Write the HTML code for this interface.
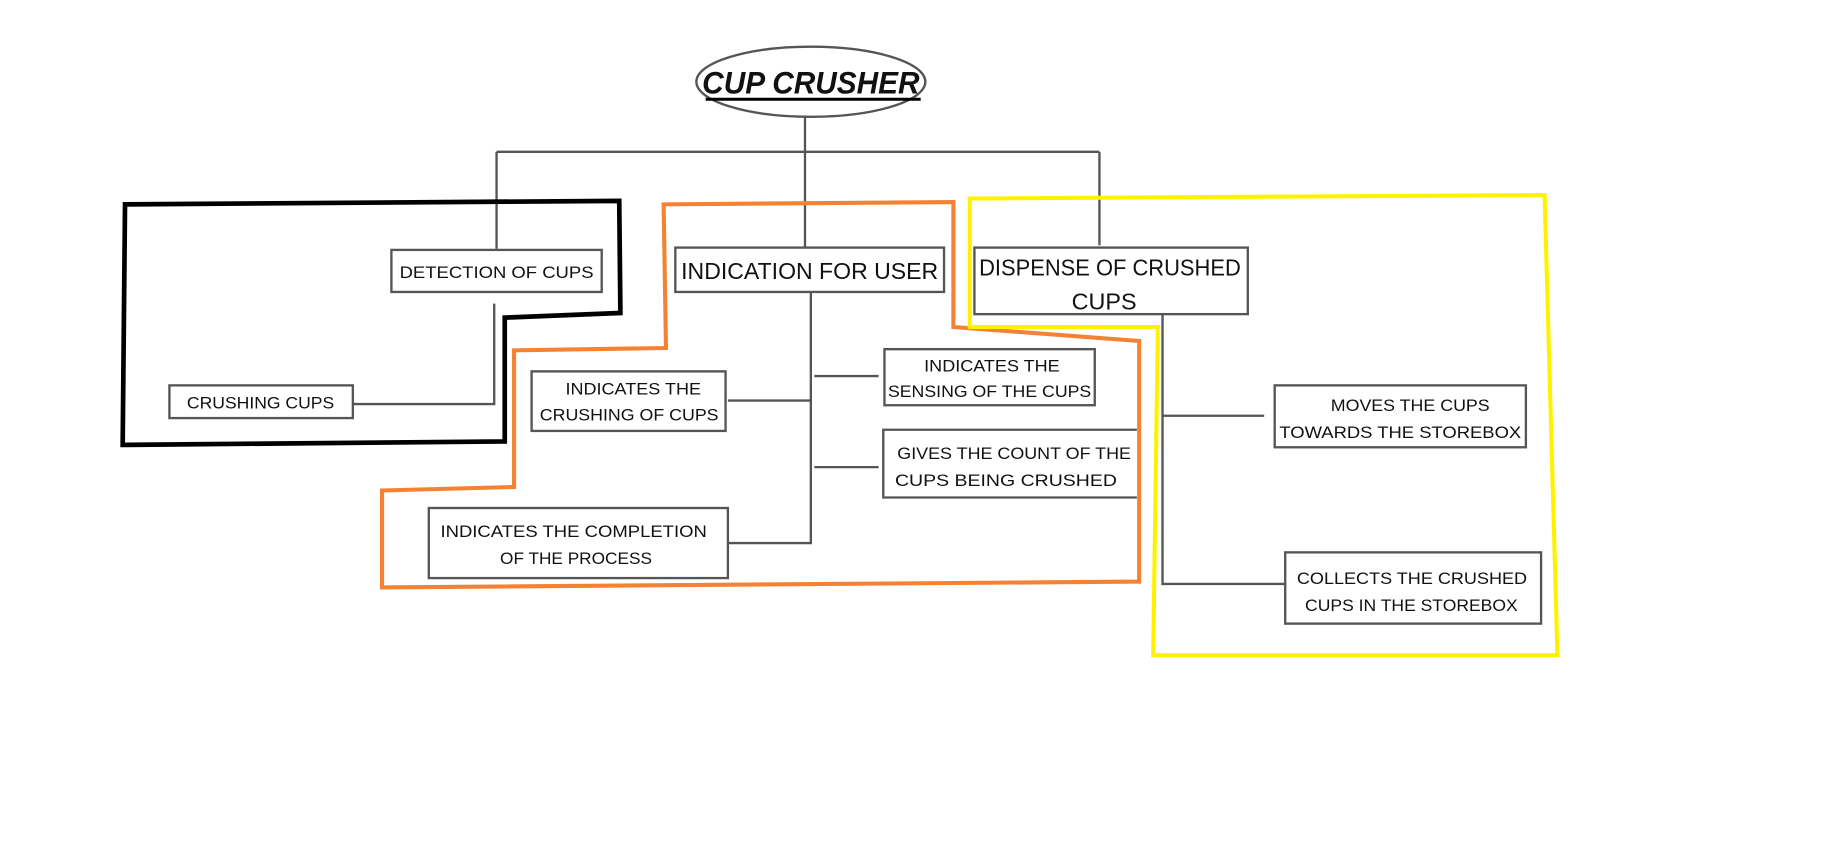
<!DOCTYPE html>
<html><head><meta charset="utf-8"><style>
html,body{margin:0;padding:0;background:#fff;}
svg{display:block}
text{font-family:"Liberation Sans",sans-serif;fill:#111;}
</style></head><body>
<svg width="1832" height="849" viewBox="0 0 1568 727" preserveAspectRatio="none">
<rect width="1568" height="727" fill="#fff"/>
<g fill="none" stroke="#555" stroke-width="2">
<ellipse cx="694" cy="70" rx="98" ry="30"/>
<path d="M689 100V130M425 130H941M425 130V213M689 130V212M941 130V210"/>
<path d="M423 260V346H302"/>
<path d="M694 250V465H623M623 343H694M697 322H752M697 400H752"/>
<path d="M995 269V500H1100M995 356H1082"/>
<rect x="335" y="214" width="180" height="36"/>
<rect x="145" y="330" width="157" height="28"/>
<rect x="578" y="212" width="230" height="38"/>
<rect x="455" y="318" width="166" height="51"/>
<rect x="757" y="299" width="180" height="48"/>
<path d="M973 368H756V426H973"/>
<rect x="367" y="435" width="256" height="60"/>
<rect x="834" y="212" width="234" height="57"/>
<rect x="1091" y="330" width="215" height="53"/>
<rect x="1100" y="473" width="219" height="61"/>
</g>
<path d="M107 175L530 172L531 268L432 272L432 378L105 381Z" fill="none" stroke="#000" stroke-width="4"/>
<path d="M568 175L816 173L816 280L975 292L975 498L327 503L327 420L440 417L440 300L570 298Z" fill="none" stroke="#f58232" stroke-width="3.5"/>
<path d="M830 170L1322 167L1333 561L987 561L991 280L830 280Z" fill="none" stroke="#fff200" stroke-width="3.5"/>
<text x="601" y="80" font-size="27" font-weight="bold" font-style="italic" textLength="186" lengthAdjust="spacingAndGlyphs">CUP CRUSHER</text>
<path d="M604 85H788" stroke="#000" stroke-width="2.5"/>
<g font-size="14.5">
<text x="342" y="238" textLength="166" lengthAdjust="spacingAndGlyphs">DETECTION OF CUPS</text>
<text x="160" y="350" textLength="126" lengthAdjust="spacingAndGlyphs">CRUSHING CUPS</text>
<text x="484" y="338" textLength="116" lengthAdjust="spacingAndGlyphs">INDICATES THE</text>
<text x="462" y="360" textLength="153" lengthAdjust="spacingAndGlyphs">CRUSHING OF CUPS</text>
<text x="791" y="318" textLength="116" lengthAdjust="spacingAndGlyphs">INDICATES THE</text>
<text x="760" y="340" textLength="174" lengthAdjust="spacingAndGlyphs">SENSING OF THE CUPS</text>
<text x="768" y="393" textLength="200" lengthAdjust="spacingAndGlyphs">GIVES THE COUNT OF THE</text>
<text x="766" y="416" textLength="190" lengthAdjust="spacingAndGlyphs">CUPS  BEING CRUSHED</text>
<text x="377" y="460" textLength="228" lengthAdjust="spacingAndGlyphs">INDICATES THE COMPLETION</text>
<text x="428" y="483" textLength="130" lengthAdjust="spacingAndGlyphs">OF THE PROCESS</text>
<text x="1139" y="352" textLength="136" lengthAdjust="spacingAndGlyphs">MOVES THE CUPS</text>
<text x="1095" y="375" textLength="207" lengthAdjust="spacingAndGlyphs">TOWARDS THE STOREBOX</text>
<text x="1110" y="500" textLength="197" lengthAdjust="spacingAndGlyphs">COLLECTS  THE  CRUSHED</text>
<text x="1117" y="523" textLength="182" lengthAdjust="spacingAndGlyphs">CUPS IN THE STOREBOX</text>
</g>
<g font-size="20">
<text x="583" y="239" textLength="220" lengthAdjust="spacingAndGlyphs">INDICATION FOR USER</text>
<text x="838" y="236" textLength="224" lengthAdjust="spacingAndGlyphs">DISPENSE OF CRUSHED</text>
<text x="945" y="265" text-anchor="middle">CUPS</text>
</g>
</svg>
</body></html>
